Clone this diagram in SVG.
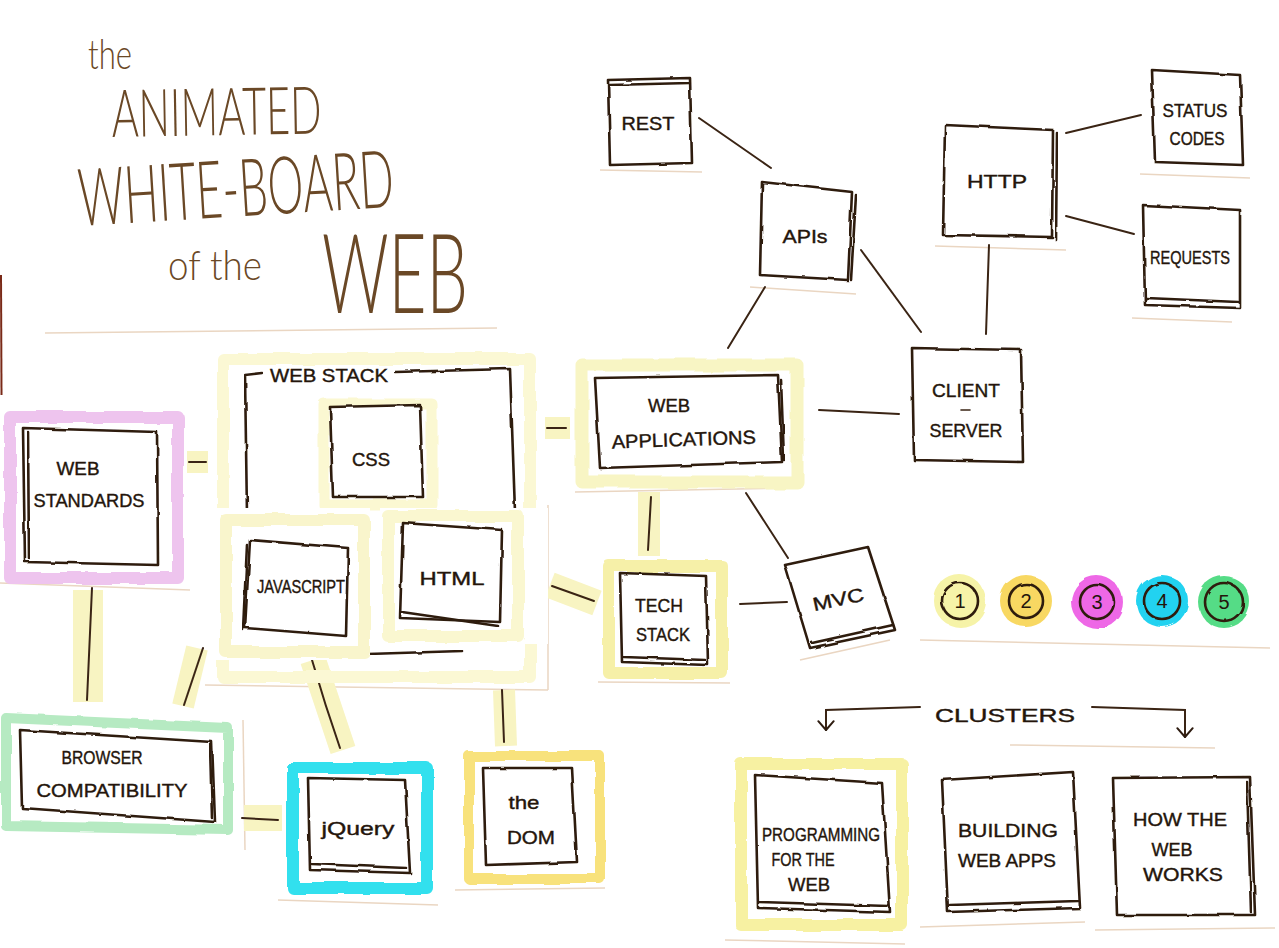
<svg xmlns="http://www.w3.org/2000/svg" width="1279" height="948" viewBox="0 0 1279 948">
<defs>
<filter id="rough" x="-5%" y="-5%" width="110%" height="110%">
<feTurbulence type="fractalNoise" baseFrequency="0.05" numOctaves="2" seed="4"/>
<feDisplacementMap in="SourceGraphic" scale="3"/>
</filter>
<filter id="soft" x="-10%" y="-10%" width="120%" height="120%">
<feTurbulence type="fractalNoise" baseFrequency="0.03" numOctaves="2" seed="7"/>
<feDisplacementMap in="SourceGraphic" scale="5"/>
</filter>
<marker id="arr" viewBox="0 0 20 20" refX="17" refY="10" markerWidth="22" markerHeight="22" markerUnits="userSpaceOnUse" orient="auto">
<path d="M9 3 L17 10 L9 17" fill="none" stroke="#2e1c10" stroke-width="1.8" stroke-linecap="round" stroke-linejoin="round"/>
</marker>
</defs>
<style>
.ink{fill:none;stroke:#2e1c10;stroke-width:2.6;stroke-linejoin:round;stroke-linecap:round;filter:url(#rough)}
.box{fill:#ffffff;stroke:#2e1c10;stroke-width:2.6;stroke-linejoin:round;filter:url(#rough)}
.thin{fill:none;stroke:#3a2414;stroke-width:1.6;stroke-linecap:round}
.con{fill:none;stroke:#3a2414;stroke-width:2;stroke-linecap:round}
.band{fill:none;stroke:#f8f4c2;stroke-linecap:butt}
.edge{fill:none;stroke:#ead6c2;stroke-width:1.5}
.hl{fill:none;stroke-linejoin:round;filter:url(#soft)}
.lbl{font-family:"Liberation Sans","DejaVu Sans",sans-serif;font-size:19px;fill:#24150b;stroke:#24150b;stroke-width:0.4;text-anchor:middle}
.title{font-family:"Lato","DejaVu Sans",sans-serif;font-weight:300;fill:#6a4826;text-anchor:start}
.num{font-family:"Liberation Sans",sans-serif;font-size:20px;fill:#24150b;text-anchor:middle}
</style>
<rect x="0" y="0" width="1279" height="948" fill="#ffffff"/>
<path d="M1 275 L1.5 395" stroke="#7a2a18" stroke-width="2"/>

<!-- paper edges -->
<g id="paper">
<path class="edge" d="M45 333 L497 328"/>
<path class="edge" d="M600 170 L702 172"/>
<path class="edge" d="M750 287 L856 294"/>
<path class="edge" d="M935 246 L1066 250"/>
<path class="edge" d="M1140 174 L1250 178"/>
<path class="edge" d="M1132 318 L1232 322"/>
<path class="edge" d="M0 583 L190 590"/>
<path class="edge" d="M575 492 L795 488"/>
<path class="edge" d="M205 685 L548 690"/>
<path class="edge" d="M548 505 L548 690"/>
<path class="edge" d="M245 850 L243 720"/>
<path class="edge" d="M278 900 L438 905"/>
<path class="edge" d="M455 890 L605 888"/>
<path class="edge" d="M598 682 L730 683"/>
<path class="edge" d="M800 660 L890 640"/>
<path class="edge" d="M920 640 L1270 648"/>
<path class="edge" d="M1010 745 L1215 748"/>
<path class="edge" d="M725 940 L905 944"/>
<path class="edge" d="M920 927 L1085 922"/>
<path class="edge" d="M1095 930 L1275 928"/>
</g>

<!-- title -->
<g id="title">
<text class="title" x="88" y="69" font-size="42" textLength="44" lengthAdjust="spacingAndGlyphs">the</text>
<text class="title" x="112" y="137" font-size="66" textLength="210" lengthAdjust="spacingAndGlyphs" transform="rotate(-1 112 137)">ANIMATED</text>
<text class="title" x="80" y="226" font-size="80" textLength="316" lengthAdjust="spacingAndGlyphs" transform="rotate(-3.5 80 226)">WHITE-BOARD</text>
<text class="title" x="168" y="280" font-size="42" textLength="94" lengthAdjust="spacingAndGlyphs">of the</text>
<text class="title" x="322" y="313" font-size="110" textLength="146" lengthAdjust="spacingAndGlyphs">WEB</text>
</g>

<!-- connectors -->
<g id="connectors">
<path class="band" stroke-width="30" d="M88 590 L88 702"/>
<path class="band" stroke-width="22" d="M197 648 L183 706"/>
<path class="band" stroke-width="26" d="M313 660 L343 750"/>
<path class="band" stroke-width="22" d="M504 690 L506 746"/>
<path class="band" stroke-width="26" d="M244 818 L282 818"/>
<path class="band" stroke-width="26" d="M550 585 L597 603"/>
<path class="band" stroke-width="22" d="M649 492 L649 556"/>
<path class="band" stroke-width="22" d="M545 428 L570 428"/>
<path class="band" stroke-width="22" d="M187 462 L208 462"/>
<path class="con" d="M92 588 L87 700"/>
<path class="con" d="M203 648 L184 705"/>
<path class="con" d="M312 660 Q325 705 340 748"/>
<path class="con" d="M502 690 L504 742"/>
<path class="con" d="M242 818 L278 820"/>
<path class="con" d="M552 586 L594 601"/>
<path class="con" d="M651 497 L648 550"/>
<path class="con" d="M547 428 L566 428"/>
<path class="con" d="M189 462 L206 462"/>
<path class="con" d="M699 118 L771 168"/>
<path class="con" d="M765 287 L728 348"/>
<path class="con" d="M861 250 L921 332"/>
<path class="con" d="M989 245 L986 334"/>
<path class="con" d="M1066 133 L1141 115"/>
<path class="con" d="M1066 216 L1134 234"/>
<path class="con" d="M819 410 L899 414"/>
<path class="con" d="M746 493 L788 558"/>
<path class="con" d="M740 604 L787 602"/>
<path class="con" d="M920 707 L826 710 L826 730" marker-end="url(#arr)"/>
<path class="con" d="M1092 707 L1185 710 L1185 737" marker-end="url(#arr)"/>
</g>

<!-- web stack -->
<g id="web-stack">
<rect class="hl" x="223" y="359" width="307" height="318" stroke="#fbf8d4" stroke-width="12"/>
<path class="ink" d="M262 373 L245 375 L247 515"/>
<path class="ink" d="M395 372 L510 369 L515 512"/>
<text class="lbl" x="329" y="382" textLength="118" lengthAdjust="spacingAndGlyphs">WEB STACK</text>
</g>

<g id="css">
<rect class="hl" x="324" y="404" width="108" height="101" stroke="#fbf8d2" stroke-width="11"/>
<path class="box" d="M330 407 L420 405 L423 497 L333 497 Z"/>
<text class="lbl" x="371" y="466" textLength="38" lengthAdjust="spacingAndGlyphs">CSS</text>
</g>

<g id="html">
<rect x="380" y="508" width="168" height="136" fill="#ffffff"/>
<rect class="hl" x="388" y="516" width="130" height="120" stroke="#faf7d0" stroke-width="12"/>
<path class="box" d="M403 523 L502 530 L500 622 L400 618 Z"/>
<path class="ink" d="M402 612 L498 626"/>
<text class="lbl" x="452" y="585" textLength="65" lengthAdjust="spacingAndGlyphs">HTML</text>
<path class="ink" d="M368 654 L462 651"/>
</g>

<g id="javascript">
<rect x="215" y="508" width="155" height="152" fill="#ffffff"/>
<rect class="hl" x="226" y="520" width="138" height="132" stroke="#f9f5cc" stroke-width="12"/>
<path class="box" d="M250 540 L348 548 L346 636 L245 628 Z"/>
<path class="ink" d="M247 545 L243 630"/>
<text class="lbl" x="301" y="593" textLength="88" lengthAdjust="spacingAndGlyphs">JAVASCRIPT</text>
</g>

<g id="web-standards">
<rect class="hl" x="10" y="417" width="168" height="161" stroke="#eec4ee" stroke-width="12"/>
<path class="box" d="M23 428 L157 432 L158 565 L25 562 Z"/>
<path class="ink" d="M28 432 L29 558"/>
<text class="lbl" x="78" y="475" textLength="43" lengthAdjust="spacingAndGlyphs">WEB</text>
<text class="lbl" x="89" y="507" textLength="111" lengthAdjust="spacingAndGlyphs">STANDARDS</text>
</g>

<g id="browser-compatibility">
<path class="hl" d="M6 718 L228 728 L228 830 L6 826 Z" stroke="#b6eac2" stroke-width="10"/>
<path class="box" d="M20 730 L212 742 L215 822 L22 808 Z"/>
<path class="ink" d="M210 745 L212 818"/>
<text class="lbl" x="102" y="764" textLength="81" lengthAdjust="spacingAndGlyphs">BROWSER</text>
<text class="lbl" x="112" y="797" textLength="151" lengthAdjust="spacingAndGlyphs">COMPATIBILITY</text>
</g>

<g id="jquery">
<rect class="hl" x="293" y="768" width="134" height="120" stroke="#30e0ee" stroke-width="12"/>
<path class="box" d="M308 778 L405 780 L410 873 L310 870 Z"/>
<path class="ink" d="M312 864 L406 868"/>
<text class="lbl" x="358" y="835" textLength="73" lengthAdjust="spacingAndGlyphs">jQuery</text>
</g>

<g id="the-dom">
<rect class="hl" x="469" y="756" width="131" height="123" stroke="#f8e27c" stroke-width="10"/>
<path class="box" d="M483 768 L572 768 L577 862 L486 865 Z"/>
<text class="lbl" x="524" y="809" textLength="31" lengthAdjust="spacingAndGlyphs">the</text>
<text class="lbl" x="531" y="844" textLength="48" lengthAdjust="spacingAndGlyphs">DOM</text>
</g>

<g id="tech-stack">
<rect class="hl" x="609" y="566" width="113" height="107" stroke="#f6f0a8" stroke-width="12"/>
<path class="box" d="M620 573 L706 576 L708 665 L622 662 Z"/>
<path class="ink" d="M624 657 L705 660"/>
<text class="lbl" x="659" y="612" textLength="48" lengthAdjust="spacingAndGlyphs">TECH</text>
<text class="lbl" x="663" y="641" textLength="54" lengthAdjust="spacingAndGlyphs">STACK</text>
</g>

<g id="web-applications">
<rect class="hl" x="582" y="365" width="215" height="117" stroke="#f8f5c4" stroke-width="13"/>
<path class="box" d="M595 378 L778 375 L782 462 L600 468 Z"/>
<path class="ink" d="M781 380 L784 460"/>
<text class="lbl" x="669" y="412" textLength="42" lengthAdjust="spacingAndGlyphs">WEB</text>
<text class="lbl" x="684" y="446" textLength="144" lengthAdjust="spacingAndGlyphs" transform="rotate(-2 684 446)">APPLICATIONS</text>
</g>

<g id="mvc">
<path class="box" d="M785 565 L868 547 L895 630 L810 648 Z"/>
<path class="ink" d="M812 643 L893 625"/>
<text class="lbl" x="838" y="606" font-size="22" textLength="52" lengthAdjust="spacingAndGlyphs" transform="rotate(-12 838 598)">MVC</text>
</g>

<g id="rest">
<path class="box" d="M608 80 L690 78 L692 163 L610 165 Z"/>
<path class="ink" d="M610 85 L689 83"/>
<text class="lbl" x="648" y="130" textLength="53" lengthAdjust="spacingAndGlyphs">REST</text>
</g>

<g id="apis">
<path class="box" d="M762 182 L852 192 L848 280 L760 275 Z"/>
<path class="ink" d="M856 195 L851 280"/>
<text class="lbl" x="805" y="243" font-size="22" textLength="45" lengthAdjust="spacingAndGlyphs">APIs</text>
</g>

<g id="http">
<path class="box" d="M945 125 L1053 130 L1052 237 L943 235 Z"/>
<path class="ink" d="M1057 133 L1056 240"/>
<text class="lbl" x="997" y="188" font-size="22" textLength="60" lengthAdjust="spacingAndGlyphs">HTTP</text>
</g>

<g id="status-codes">
<path class="box" d="M1152 70 L1240 75 L1243 165 L1155 162 Z"/>
<text class="lbl" x="1195" y="117" textLength="65" lengthAdjust="spacingAndGlyphs">STATUS</text>
<text class="lbl" x="1197" y="145" textLength="55" lengthAdjust="spacingAndGlyphs">CODES</text>
</g>

<g id="requests">
<path class="box" d="M1143 205 L1240 210 L1240 308 L1145 305 Z"/>
<path class="ink" d="M1146 298 L1238 302"/>
<text class="lbl" x="1190" y="264" textLength="80" lengthAdjust="spacingAndGlyphs">REQUESTS</text>
</g>

<g id="client-server">
<path class="box" d="M912 348 L1021 350 L1023 462 L914 460 Z"/>
<text class="lbl" x="966" y="397" textLength="68" lengthAdjust="spacingAndGlyphs">CLIENT</text>
<path class="thin" d="M961 410 L970 410"/>
<text class="lbl" x="966" y="437" textLength="73" lengthAdjust="spacingAndGlyphs">SERVER</text>
</g>

<g id="legend">
<circle cx="960" cy="601" r="26" fill="#f6f3a8" filter="url(#soft)"/>
<circle cx="1026" cy="601" r="26" fill="#f8d862" filter="url(#soft)"/>
<circle cx="1097" cy="602" r="26" fill="#ee68e6" filter="url(#soft)"/>
<circle cx="1162" cy="601" r="26" fill="#22d2f0" filter="url(#soft)"/>
<circle cx="1224" cy="602" r="26" fill="#55dc86" filter="url(#soft)"/>
<circle class="ink" cx="960" cy="601" r="18"/>
<circle class="ink" cx="1026" cy="601" r="17" stroke="#5a1a10"/>
<circle class="ink" cx="1097" cy="602" r="17" stroke="#3a0a20"/>
<circle class="ink" cx="1162" cy="601" r="18"/>
<circle class="ink" cx="1224" cy="602" r="19"/>
<text class="num" x="960" y="608">1</text>
<text class="num" x="1026" y="608">2</text>
<text class="num" x="1097" y="609">3</text>
<text class="num" x="1162" y="608">4</text>
<text class="num" x="1224" y="609" font-size="22">5</text>
</g>

<g id="clusters">
<text class="lbl" x="1005" y="722" font-size="30" stroke-width="0" fill="#2a1a0e" textLength="140" lengthAdjust="spacingAndGlyphs">CLUSTERS</text>
</g>

<g id="programming-for-the-web">
<rect class="hl" x="741" y="764" width="161" height="161" stroke="#f7f1a2" stroke-width="12"/>
<path class="box" d="M755 775 L882 783 L890 912 L758 908 Z"/>
<path class="ink" d="M760 902 L888 906"/>
<text class="lbl" x="821" y="841" textLength="118" lengthAdjust="spacingAndGlyphs">PROGRAMMING</text>
<text class="lbl" x="803" y="866" textLength="63" lengthAdjust="spacingAndGlyphs">FOR THE</text>
<text class="lbl" x="809" y="891" textLength="42" lengthAdjust="spacingAndGlyphs">WEB</text>
</g>

<g id="building-web-apps">
<path class="box" d="M942 780 L1073 772 L1080 908 L948 912 Z"/>
<path class="ink" d="M950 905 L1078 901"/>
<text class="lbl" x="1008" y="837" textLength="100" lengthAdjust="spacingAndGlyphs">BUILDING</text>
<text class="lbl" x="1007" y="867" textLength="98" lengthAdjust="spacingAndGlyphs">WEB APPS</text>
</g>

<g id="how-the-web-works">
<path class="box" d="M1113 778 L1250 777 L1255 915 L1117 915 Z"/>
<path class="ink" d="M1247 782 L1251 912"/>
<text class="lbl" x="1180" y="826" textLength="94" lengthAdjust="spacingAndGlyphs">HOW THE</text>
<text class="lbl" x="1172" y="856" textLength="41" lengthAdjust="spacingAndGlyphs">WEB</text>
<text class="lbl" x="1183" y="881" textLength="80" lengthAdjust="spacingAndGlyphs">WORKS</text>
</g>
</svg>
